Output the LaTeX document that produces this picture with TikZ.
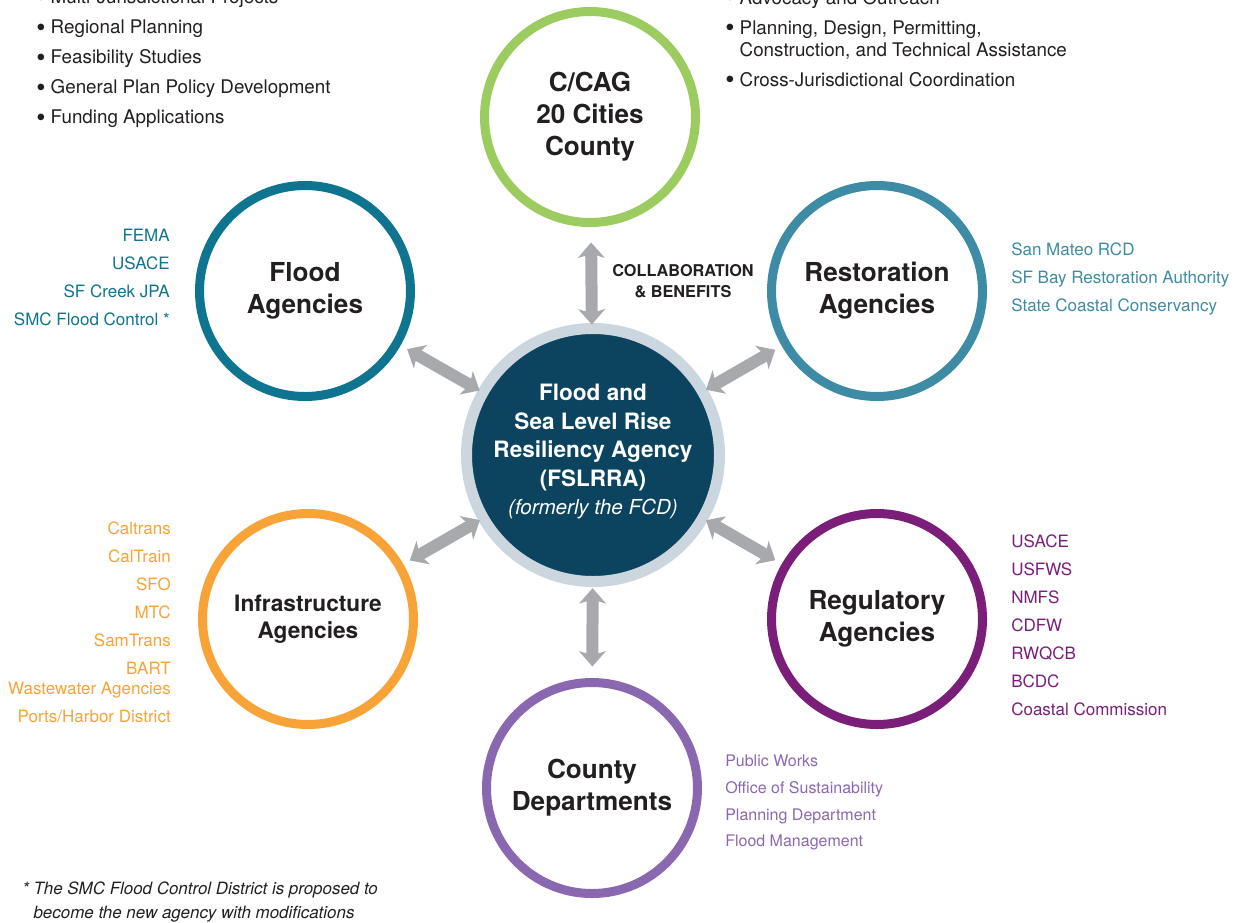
\documentclass[tikz,border=0pt]{standalone}
\usepackage{fontspec}
\setmainfont{TeX Gyre Heros}
\usetikzlibrary{arrows.meta,positioning,calc}
\definecolor{inkDark}{HTML}{231F20}
\definecolor{cagGreen}{HTML}{9CCB5F}
\definecolor{floodTeal}{HTML}{0E7490}
\definecolor{restoTeal}{HTML}{3E8BA5}
\definecolor{infraOrange}{HTML}{F7A337}
\definecolor{regulPurple}{HTML}{7A1E7A}
\definecolor{countyLav}{HTML}{8A68AF}
\definecolor{hubNavy}{HTML}{0C4460}
\definecolor{hubRing}{HTML}{CBD6DE}
\definecolor{arrowGray}{HTML}{A7A9AC}
\newcommand{\bul}{\raisebox{-0.12em}{\scalebox{1.4}{\textbullet}}\ }
\tikzset{ring/.style={circle, draw, line width=6.75pt, minimum size=158.25pt, inner sep=0pt, outer sep=0pt, align=center, text=inkDark, font=\fontsize{19.6}{24}\selectfont\bfseries},
hubnode/.style={circle, draw=hubRing, fill=hubNavy, line width=8.25pt, minimum size=189.75pt, inner sep=0pt, outer sep=0pt, align=center, text=white, font=\fontsize{16.9}{21.4}\selectfont\bfseries},
link/.style={<->, >={Stealth[length=11.5pt, width=20pt, inset=3pt]}, draw=arrowGray, line width=9pt, shorten <=9pt, shorten >=3pt},
listtext/.style={inner sep=0pt, font=\fontsize{12.75}{21}\selectfont},
bullets/.style={inner sep=0pt, align=left, anchor=north west, text=inkDark, font=\fontsize{14.1}{22.5}\selectfont},
note/.style={inner sep=0pt, align=center, text=inkDark, font=\fontsize{12.2}{15.75}\selectfont\bfseries}}

\begin{document}
\begin{tikzpicture}[x=0.75pt, y=-0.75pt]
\useasboundingbox (0,0) rectangle (1242,922);

\node[hubnode] (hub) at (593,455) {Flood and\\Sea Level Rise\\Resiliency Agency\\(FSLRRA)\\{\mdseries\itshape\fontsize{15.5}{21.4}\selectfont (formerly the FCD)}\\[-13pt]};

\node[ring, draw=cagGreen] (cag) at (590,117) {C/CAG\\20 Cities\\County};
\node[ring, draw=floodTeal] (flood) at (305,291) {Flood\\Agencies};
\node[ring, draw=restoTeal] (resto) at (877,291) {Restoration\\Agencies};
\node[ring, draw=infraOrange, font=\fontsize{17}{20}\selectfont\bfseries] (infra) at (308,619) {Infrastructure\\Agencies};
\node[ring, draw=regulPurple] (regul) at (877,619) {Regulatory\\Agencies};
\node[ring, draw=countyLav] (county) at (592,788) {County\\Departments};

% two-way arrows to the hub
\draw[link, shorten <=15pt] (cag) -- (hub);
\draw[link] (flood) -- (hub);
\draw[link] (resto) -- (hub);
\draw[link] (infra) -- (hub);
\draw[link] (regul) -- (hub);
\draw[link, shorten <=12pt, shorten >=5pt] (county) -- (hub);
\node[note] (collab) at (683,281.5) {COLLABORATION\\\& BENEFITS};

% member lists
\node[listtext, text=floodTeal, align=right, anchor=north east] (floodlist) at (170,229) {FEMA\\USACE\\SF Creek JPA\\SMC Flood Control *};
\node[listtext, text=restoTeal, align=left, anchor=north west] (restolist) at (1011,243) {San Mateo RCD\\SF Bay Restoration Authority\\State Coastal Conservancy};
\node[listtext, text=infraOrange, align=right, anchor=north east] (infralist) at (171,522) {Caltrans\\CalTrain\\SFO\\MTC\\SamTrans\\BART\\[-6pt]Wastewater Agencies\\Ports/Harbor District};
\node[listtext, text=regulPurple, align=left, anchor=north west] (regullist) at (1011,535) {USACE\\USFWS\\NMFS\\CDFW\\RWQCB\\BCDC\\Coastal Commission};
\node[listtext, text=countyLav, align=left, anchor=north west, font=\fontsize{12}{20}\selectfont] (countylist) at (725,755) {Public Works\\Office of Sustainability\\Planning Department\\Flood Management};

% roles of C/CAG and the agency
\node[bullets] (cagroles) at (36,-10) {\bul Multi-Jurisdictional Projects\\\bul Regional Planning\\\bul Feasibility Studies\\\bul General Plan Policy Development\\\bul Funding Applications};
\node[bullets] (hubroles) at (725,-10) {\bul Advocacy and Outreach\\\bul Planning, Design, Permitting,\\[-6pt]\hphantom{\bul}Construction, and Technical Assistance\\\bul Cross-Jurisdictional Coordination};

\node[inner sep=0pt, align=left, anchor=north west, text=inkDark, font=\fontsize{12.7}{18}\selectfont\itshape] (footnote) at (22,882) {* The SMC Flood Control District is proposed to\\\hphantom{* }become the new agency with modifications};
\end{tikzpicture}
\end{document}
